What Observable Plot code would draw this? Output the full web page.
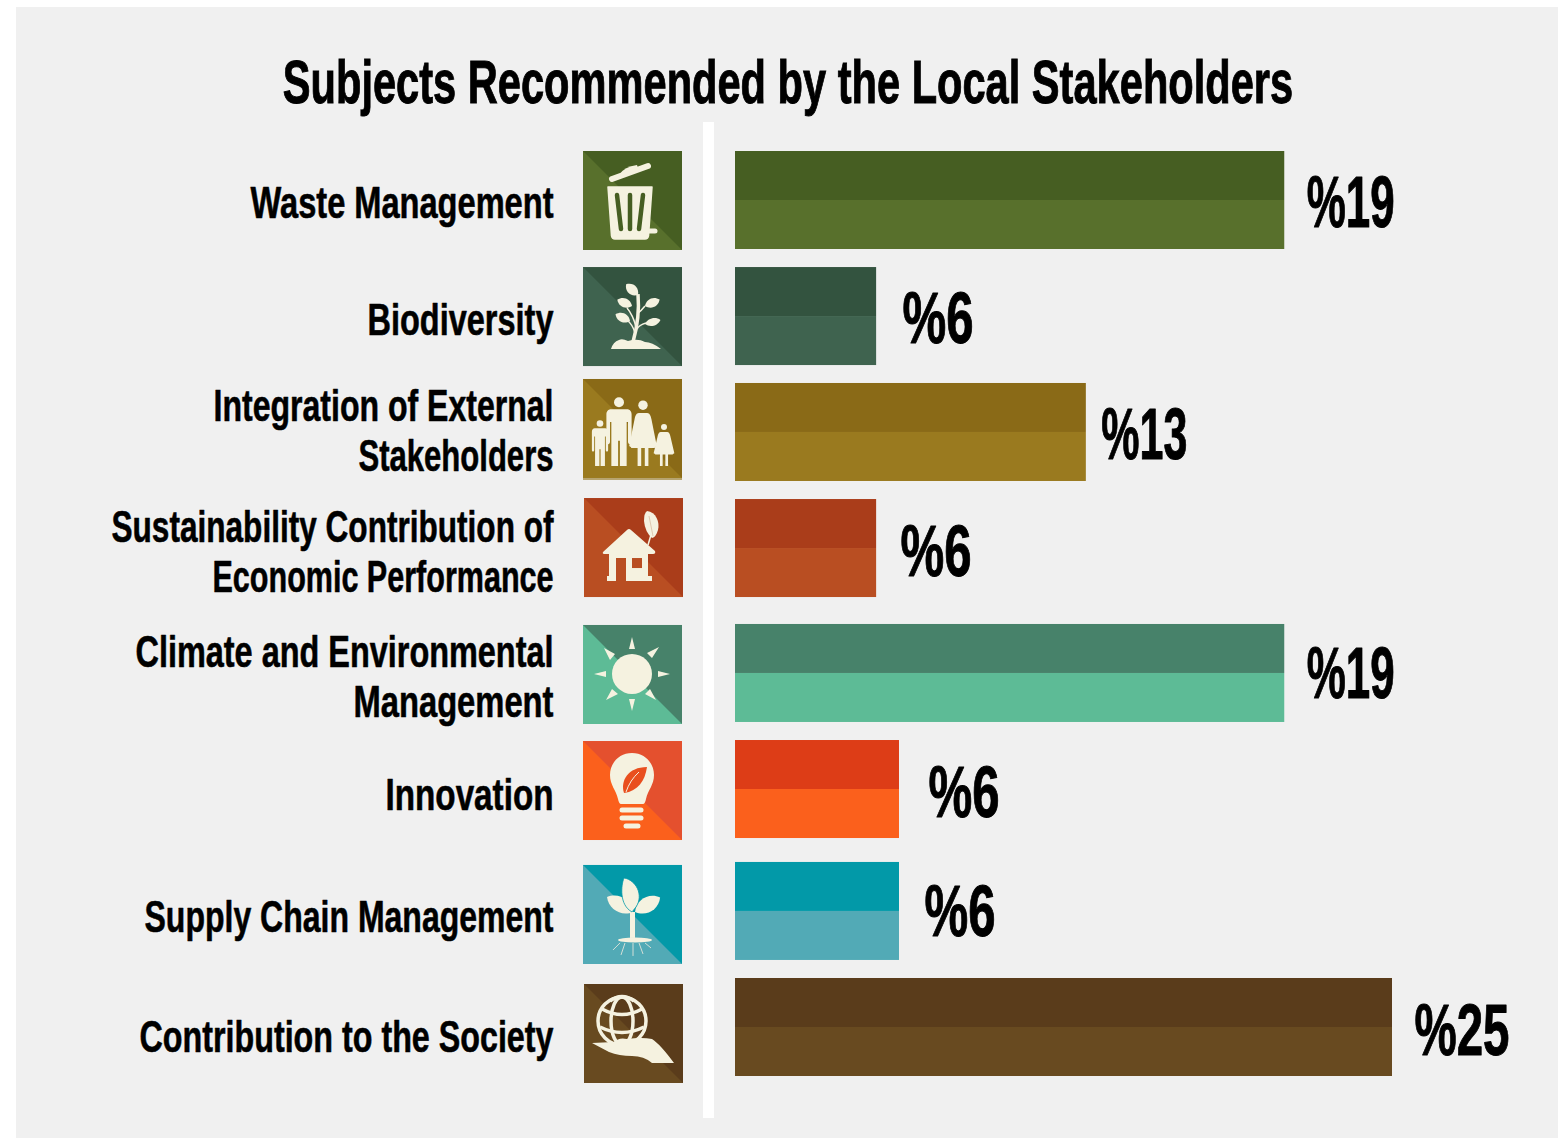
<!DOCTYPE html>
<html><head><meta charset="utf-8">
<script src="https://cdn.jsdelivr.net/npm/d3@7"></script>
<script src="https://cdn.jsdelivr.net/npm/@observablehq/plot@0.6"></script>
<style>
html,body{margin:0;padding:0;background:#fff}
#page{position:relative;width:1568px;height:1139px;overflow:hidden}
#panel{position:absolute;left:16px;top:7px;width:1542px;height:1131px;background:#f0f0f0}
#title{position:absolute;left:0;top:48px;width:1576px;margin:0;text-align:center;font:700 62px/68px "Liberation Sans",sans-serif;color:#000;white-space:nowrap;-webkit-text-stroke:1px #000;transform-origin:788px 0;transform:scaleX(.671)}
#chart{position:absolute;left:0;top:0}
#chart svg{background:transparent;display:block}
</style></head><body>
<div id="page"><div id="panel"></div><div id="chart"></div><h1 id="title">Subjects Recommended by the Local Stakeholders</h1></div>
<script>
const categories = ["Waste Management","Biodiversity","Integration of External\nStakeholders","Sustainability Contribution of\nEconomic Performance","Climate and Environmental\nManagement","Innovation","Supply Chain Management","Contribution to the Society"];
const valueLabels = ["%19","%6","%13","%6","%19","%6","%6","%25"];
// bar lengths as drawn, on the scale where the %25 bar is 25
const barLengths = [20.9,5.37,13.35,5.37,20.9,6.24,6.24,25];
const darkColors = ["#465e22","#33533f","#8a6a17","#aa3d1a","#47826a","#dd3d17","#0299a8","#5a3c1b"];
const lightColors = ["#58702c","#3f634f","#9a7a1f","#b94e22","#5dbb96","#fb601c","#52aab6","#684a20"];
const iconDark = ["#465e22","#33533f","#8a6a17","#aa3d1a","#47826a","#e4502e","#0299a8","#5a3c1b"];

// layout: per-row vertical nudges from the even band grid, and text widths
const barShift = [0,-2.1,-4.3,-6.4,.4,-1.7,2.1,0];
const labelShift = [2,0,-7,-4,3,3,7,9];
const valueShift = [3,1,-1,-2,2,3,4,4];
const valueDx = [22,26,15,24,22,29,25,22];
const valueWidth = [88,71,86,71,88,71,71,95];
const lineWidth = {"Waste Management":303,"Biodiversity":186,"Integration of External":340,"Stakeholders":195,"Sustainability Contribution of":442,"Economic Performance":341,"Climate and Environmental":418,"Management":200,"Innovation":168,"Supply Chain Management":409,"Contribution to the Society":414};
const iconShift = [0,-2.1,-8.3,-7.4,1.4,-.7,5.1,6];
const iconDx = [-152,-152,-152,-151,-152,-152,-152,-151];

const cream = "#f5f2e0";
const family = "Liberation Sans";
const leaf = (x,y,r,l,w,c=cream)=>`<path transform="translate(${x} ${y}) rotate(${r})" d="M0 0C${l*.25} ${-w} ${l*.75} ${-w} ${l} 0C${l*.75} ${w} ${l*.25} ${w} 0 0Z" fill="${c}"/>`;
const person = (x,sx,sy,r,dress)=>{
  const top = 87-65.5*sy;
  return `<circle cx="${x}" cy="${top+r}" r="${r}" fill="${cream}"/><g transform="translate(${x} 87) scale(${sx} ${sy})" fill="${cream}">`+
  (dress
    ? `<path d="M-7 -53H7C11 -53 13 -50 14 -47L23 -20L18 -18L11 -35L20 -18H9V0H3V-18H-3V0H-9V-18H-20L-11 -35L-18 -18L-23 -20L-14 -47C-13 -50 -11 -53 -7 -53Z"/>`
    : `<path d="M-9 -54H9C12 -54 14 -52 14 -49V-23C14 -20 10 -20 10 -23V-42H8.500V0H1V-24H-1V0H-8.500V-42H-10V-23C-10 -20 -14 -20 -14 -23V-49C-14 -52 -12 -54 -9 -54Z"/>`)+`</g>`;
};
const icons = [
  // trash can
  `<path d="M25 36H69L65.500 85Q65 88 62 88H32Q29 88 28.500 85Z" fill="${cream}" stroke="${cream}" stroke-width="1.500" stroke-linejoin="round"/>
   <g stroke="#465e22" stroke-width="4.500" stroke-linecap="round"><path d="M34 44L38 78"/><path d="M47 44V78"/><path d="M60 44L56 78"/></g>
   <path d="M29 28L65 15" stroke="${cream}" stroke-width="6" stroke-linecap="round"/><path d="M37 23Q41 16 54 14L56 20Z" fill="${cream}"/><path d="M64 80H72" stroke="${cream}" stroke-width="5" stroke-linecap="round"/>`,
  // seedling
  `<path d="M28 82Q30 75 36 73Q39 71 45 74Q55 71 62 75Q69 75 78 82Z" fill="${cream}"/>
   <path d="M50 75Q57 50 55 27" fill="none" stroke="${cream}" stroke-width="3.500"/><path d="M53 60Q50 48 44 41M55 46Q58 44 62 39M52 66Q50 58 44 53M54 62Q56 58 63 56" fill="none" stroke="${cream}" stroke-width="1.500"/>
   ${leaf(55,28,-138,16,6.500)}${leaf(49,39,-157,16,6)}${leaf(47,54,-155,16,6)}${leaf(62,39,-24,16,6)}${leaf(62,57,-15,16,5)}`,
  // family
  person(17,.58,.7,3.3,false)+person(36,.9,1.05,5,false)+person(60,.6,1,4.7,true)+person(81,.45,.64,3,true)+`<rect y="99" width="99" height="2" fill="#b7a46f"/>`,
  // house with leaf
  `<path d="M19 54L43 32Q45 30 47 32L71 53Q72 56 69 56H64V78H68V83H42V60H32V83H23V78H25V56H21Q18 56 19 54Z" fill="${cream}"/><rect x="48" y="60" width="10" height="10" fill="#b94e22"/><path d="M64 47L69 30" stroke="${cream}" stroke-width="1.500"/>
   <path d="M63 13C72 14 76 24 74 32Q72 39 68 40Q61 34 60 23Q60 15 63 13Z" fill="${cream}"/><path d="M65 18L69 38" stroke="#dfc9b0" stroke-width="1"/>`,
  // sun
  `<circle cx="49" cy="49" r="20" fill="${cream}"/><path d="M49 12L52 24H46ZM49 86L46 74H52ZM11 49L23 46V52ZM87 49L75 52V46ZM21 23L32 29L27 35ZM76 22L69 33L64 28ZM23 75L29 64L35 69ZM73 75L62 69L67 64Z" fill="${cream}"/>`,
  // light bulb
  `<path d="M49 12C36 12 27 22 27 34C27 44 33 49 35 58Q36 63 38 63H60Q62 63 63 58C65 49 71 44 71 34C71 22 62 12 49 12Z" fill="${cream}"/>
   <path d="M41 52C37 40 45 26 64 26C62 40 55 50 41 52Z" fill="#e94f1e"/><path d="M43 51Q47 39 56 31" stroke="${cream}" stroke-width="1" fill="none"/>
   <g stroke="${cream}" stroke-width="5" stroke-linecap="round"><path d="M39 69H58"/><path d="M39 77H58"/><path d="M43 85H55"/></g>`,
  // sprout
  `<path d="M47 47H52V73H47Z" fill="${cream}"/><ellipse cx="52" cy="75" rx="17" ry="2.500" fill="${cream}"/>
   ${leaf(50,47,-150,30,10)}${leaf(52,47,-30,29,10)}<path d="M49 47C36 40 38 20 41 13C53 15 61 30 53 42Z" fill="${cream}" stroke="#0299a8" stroke-width=".8"/>
   <path d="M42 78L38 90M50 78V91M56 78L60 89M37 78L30 85M62 78L68 83" stroke="#d3dfd7" stroke-width="1" fill="none"/>`,
  // globe in hand
  `<g fill="none" stroke="${cream}" stroke-width="3.500"><circle cx="38" cy="37" r="24"/><ellipse cx="38" cy="37" rx="11" ry="24"/><path d="M18 25Q38 36 58 25M16 43Q38 54 60 43M26 17Q38 8 50 17"/></g>
   <path d="M8 59L30 58Q35 53 43 55Q58 53 68 55Q76 60 90 79H68Q60 72 48 72Q35 72 25 68Z" fill="${cream}"/>`
];

const rows = categories.map((c,i)=>({c,i,len:barLengths[i],val:valueLabels[i],dark:darkColors[i],light:lightColors[i]}));

const iconMark = (index,{x,y})=>{
  const g = d3.create("svg:g");
  rows.forEach((r,i)=>{
    const px = x(0)+iconDx[i], py = y(r.c)+iconShift[i];
    g.append("g").attr("transform",`translate(${px} ${py})`).html(
      `<rect width="99" height="99" fill="${iconDark[i]}"/><path d="M0 0L99 99H0Z" fill="${lightColors[i]}"/>`+icons[i]);
  });
  return g.node();
};

const plot = Plot.plot({
  width:1568,height:1139,marginTop:122,marginBottom:21,marginLeft:0,marginRight:0,
  style:{background:"transparent"},
  x:{type:"linear",domain:[0,25],range:[735,1392],axis:null},
  y:{type:"band",domain:categories,range:[151,1076],paddingInner:.1705,paddingOuter:0,round:false,axis:null},
  marks:[
    Plot.ruleX([0],{stroke:"#fff",strokeWidth:11,dx:-27}),
    ...rows.flatMap((r,i)=>[
      Plot.barX([r],{x1:0,x2:"len",y:"c",fill:r.light,dy:barShift[i],insetTop:49}),
      Plot.barX([r],{x1:0,x2:"len",y:"c",fill:r.dark,dy:barShift[i],insetBottom:49}),
      Plot.text([r],{x:"len",y:"c",text:"val",textAnchor:"start",dx:valueDx[i],dy:valueShift[i],fontSize:72,fontWeight:700,fontFamily:family,fill:"#000",stroke:"#000",strokeWidth:1,className:"value"+i}),
      Plot.text([r],{x:0,y:"c",text:"c",textAnchor:"end",dx:-182,dy:labelShift[i],lineHeight:1.11,fontSize:45,fontWeight:700,fontFamily:family,fill:"#000",stroke:"#000",strokeWidth:.6,className:"cat"})
    ]),
    iconMark
  ]
});
document.getElementById("chart").append(plot);
// horizontal condensing of the installed face to the reference's proportions
const fit=(e,w)=>{e.setAttribute("textLength",w);e.setAttribute("lengthAdjust","spacingAndGlyphs");};
plot.querySelectorAll("g.cat text").forEach(t=>{
  const els=t.querySelectorAll("tspan").length?[...t.querySelectorAll("tspan")]:[t];
  els.forEach(e=>fit(e,lineWidth[e.textContent]));
});
valueWidth.forEach((w,i)=>plot.querySelectorAll(`g.value${i} text`).forEach(t=>fit(t,w)));
</script>
</body></html>
